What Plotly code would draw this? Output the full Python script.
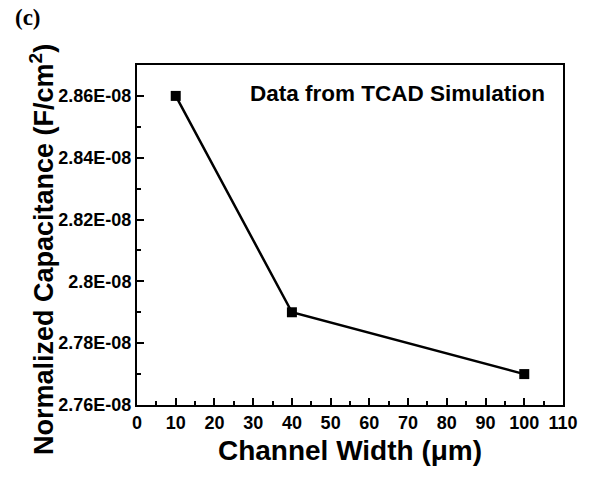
import plotly.graph_objects as go

widths = [10, 40, 100]
capacitance = [2.86e-8, 2.79e-8, 2.77e-8]
x_ticks = list(range(0, 111, 10))
x_ticktext = [str(v) for v in x_ticks]
y_tickvals = [2.76e-8, 2.78e-8, 2.80e-8, 2.82e-8, 2.84e-8, 2.86e-8]
y_ticktext = ["2.76E-08", "2.78E-08", "2.8E-08", "2.82E-08", "2.84E-08", "2.86E-08"]

font_bold = "Liberation Sans, Arial, sans-serif"

fig = go.Figure()
fig.add_trace(go.Scatter(
    x=widths, y=capacitance, mode="lines+markers",
    line=dict(color="black", width=2.5),
    marker=dict(symbol="square", size=10, color="black"),
    showlegend=False,
))

axis_common = dict(
    showline=True, linecolor="black", linewidth=2, mirror=True,
    ticks="inside", ticklen=7, tickwidth=2, tickcolor="black",
    showgrid=False, zeroline=False,
)

fig.update_xaxes(
    range=[0, 110], tickvals=x_ticks, ticktext=x_ticktext,
    tickfont=dict(family=font_bold, size=18, color="black", weight=700),
    minor=dict(ticks="inside", ticklen=4, tickwidth=2, tickcolor="black", dtick=5, tick0=0, showgrid=False),
    title=dict(text="Channel Width (μm)", font=dict(family=font_bold, size=28, color="black", weight=700), standoff=9),
    **axis_common,
)
fig.update_yaxes(
    range=[2.76e-8, 2.87e-8], tickvals=y_tickvals, ticktext=y_ticktext,
    tickfont=dict(family=font_bold, size=18, color="black", weight=700),
    minor=dict(ticks="inside", ticklen=4, tickwidth=2, tickcolor="black", dtick=1e-10, tick0=2.75e-8, showgrid=False),
    **axis_common,
)

# y-axis title placed as a rotated annotation
fig.add_annotation(
    x=(42 - 137) / (590 - 137 - 27), y=(405 - 250) / 340, xref="paper", yref="paper",
    xanchor="center", yanchor="middle",
    text="<b>Normalized Capacitance (F/cm<sup>2</sup>)</b>", showarrow=False, textangle=-90,
    font=dict(family=font_bold, size=27, color="black"),
)

fig.add_annotation(
    x=0.962, y=0.915, xref="paper", yref="paper", xanchor="right", yanchor="middle",
    text="<b>Data from TCAD Simulation</b>", showarrow=False,
    font=dict(family=font_bold, size=22.5, color="black"),
)
fig.add_annotation(
    x=-0.29, y=1.14, xref="paper", yref="paper", xanchor="left", yanchor="middle",
    text="<b>(c)</b>", showarrow=False,
    font=dict(family="Liberation Serif, Times New Roman, serif", size=23, color="black"),
)

fig.update_layout(
    width=590, height=483,
    margin=dict(l=137, r=27, t=65, b=78),
    plot_bgcolor="white", paper_bgcolor="white",
)

fig.write_html("out.html")
